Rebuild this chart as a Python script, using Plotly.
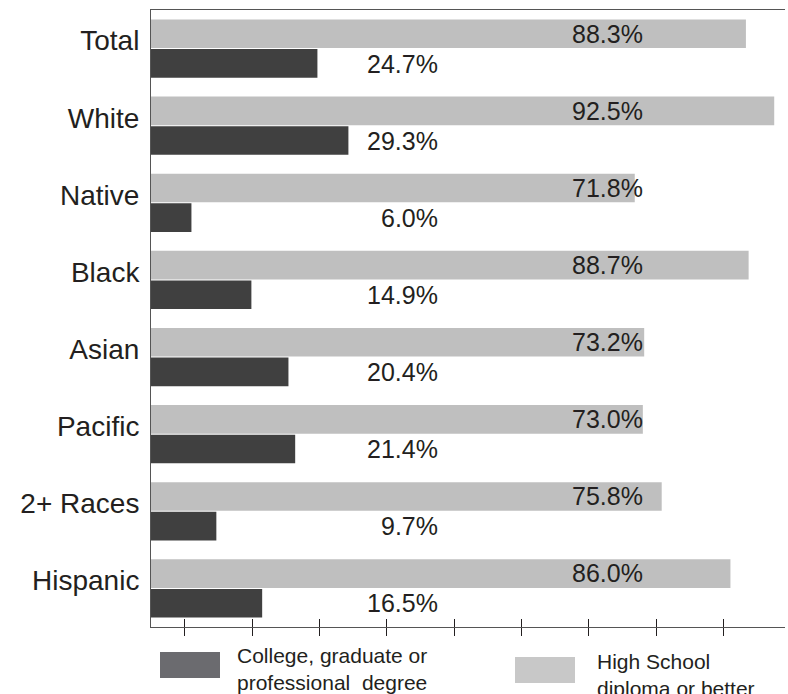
import plotly.graph_objects as go

# Educational attainment by race / ethnicity (percent of adults)
groups = ["Total", "White", "Native", "Black", "Asian", "Pacific", "2+ Races", "Hispanic"]
high_school = [88.3, 92.5, 71.8, 88.7, 73.2, 73.0, 75.8, 86.0]
college = [24.7, 29.3, 6.0, 14.9, 20.4, 21.4, 9.7, 16.5]
tick_positions = [5, 15, 25, 35, 45, 55, 65, 75, 85]

FONT = "Liberation Sans, Arial, sans-serif"
TEXT = "#231f20"
HS_COLOR = "#bfbfbf"
COL_COLOR = "#404040"

fig = go.Figure()
fig.add_trace(go.Bar(y=groups, x=high_school, orientation="h", marker_color=HS_COLOR,
                     marker_line_width=0, name="High School diploma or better"))
fig.add_trace(go.Bar(y=groups, x=college, orientation="h", marker_color=COL_COLOR,
                     marker_line_width=0, name="College, graduate or professional degree"))

# value labels aligned in two fixed columns
for g, v in zip(groups, high_school):
    fig.add_annotation(x=73.3, y=g, text=f"{v:.1f}%", xanchor="right", yanchor="middle",
                       yshift=15, showarrow=False, font=dict(family=FONT, size=25, color=TEXT))
for g, v in zip(groups, college):
    fig.add_annotation(x=42.9, y=g, text=f"{v:.1f}%", xanchor="right", yanchor="middle",
                       yshift=-15, showarrow=False, font=dict(family=FONT, size=25, color=TEXT))

# legend drawn below the plot: (swatch colour, swatch left, swatch top, text left, text centre, label)
PLOT_W, PLOT_H = 634, 617
legend_items = [
    ("#6b6b6f", 9, 25, 84, 42, "College, graduate or<br>professional\u00a0 degree"),
    ("#c8c8c8", 364, 30, 444, 48, "High School<br>diploma or better"),
]
for color, sx, sy, tx, ty, label in legend_items:
    fig.add_shape(type="rect", xref="paper", yref="paper",
                  x0=sx / PLOT_W, x1=(sx + 60) / PLOT_W,
                  y0=-sy / PLOT_H, y1=-(sy + 26) / PLOT_H,
                  fillcolor=color, line_width=0)
    fig.add_annotation(xref="paper", yref="paper", x=tx / PLOT_W, y=-ty / PLOT_H,
                       text=label, xanchor="left", yanchor="middle", align="left",
                       showarrow=False, font=dict(family=FONT, size=21, color=TEXT))

fig.update_layout(
    width=788, height=694,
    margin=dict(l=151, r=3, t=10, b=67),
    paper_bgcolor="white", plot_bgcolor="white",
    barmode="group", bargap=0.234, bargroupgap=0.03,
    showlegend=False,
    font=dict(family=FONT, color=TEXT),
    xaxis=dict(range=[0, 94.1], tickvals=tick_positions, showticklabels=False,
               ticks="outside", ticklen=8, tickcolor=TEXT, showgrid=False, zeroline=False,
               showline=True, linecolor="#555555", linewidth=1, mirror=True),
    xaxis2=dict(range=[0, 94.1], tickvals=tick_positions, showticklabels=False,
                ticks="inside", ticklen=8, tickcolor=TEXT, showgrid=False, zeroline=False,
                overlaying="x", side="bottom", anchor="y"),
    yaxis=dict(autorange="reversed", showgrid=False, zeroline=False, ticks="",
               showline=True, linecolor="#555555", linewidth=1,
               tickfont=dict(family=FONT, size=28, color=TEXT),
               ticklabelstandoff=5, ticklabelshift=8),
)
fig.add_trace(go.Scatter(x=[None], y=[None], xaxis="x2", yaxis="y", showlegend=False,
                         hoverinfo="skip"))

fig.write_html("out.html")
